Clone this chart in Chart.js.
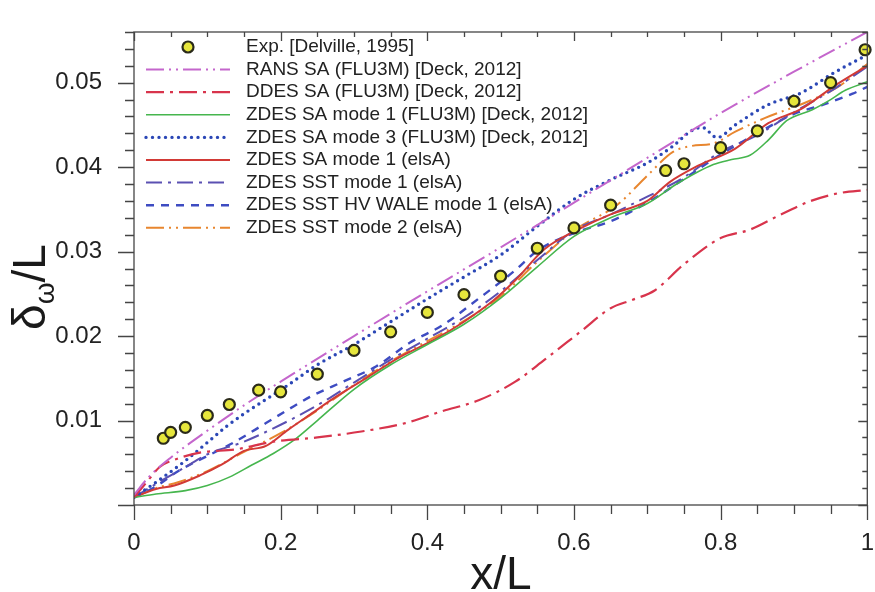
<!DOCTYPE html>
<html>
<head>
<meta charset="utf-8">
<script src="https://cdn.jsdelivr.net/npm/chart.js@4"></script>
<style>
  html, body { margin: 0; padding: 0; background: #fff; }
  #wrap { width: 875px; height: 592px; }
</style>
</head>
<body>
<div id="wrap"><canvas id="deltaChart" width="875" height="592"></canvas></div>
<script>
// --- data ---
const xTicks = [0, 0.2, 0.4, 0.6, 0.8, 1];
const yTicks = [0.01, 0.02, 0.03, 0.04, 0.05];

const expX = [0.04, 0.05, 0.07, 0.1, 0.13, 0.17, 0.2, 0.25, 0.3, 0.35, 0.4, 0.45, 0.5, 0.55, 0.6, 0.65, 0.725, 0.75, 0.8, 0.85, 0.9, 0.95, 0.997];
const expY = [0.0079, 0.0086, 0.0092, 0.0106, 0.0119, 0.0136, 0.0134, 0.0155, 0.0183, 0.0205, 0.0228, 0.0249, 0.0271, 0.0304, 0.0328, 0.0355, 0.0396, 0.0404, 0.0423, 0.0443, 0.0478, 0.0500, 0.0539];

const ransX = [0, 0.02, 0.05, 0.1, 0.15, 0.2, 0.3, 0.4, 0.5, 0.6, 0.7, 0.8, 0.9, 1.0];
const ransY = [0.0012, 0.0033, 0.0056, 0.0088, 0.0118, 0.0146, 0.0200, 0.0253, 0.0305, 0.0358, 0.0411, 0.0464, 0.0513, 0.0560];

const ddesX = [0, 0.02, 0.035, 0.06, 0.09, 0.14, 0.19, 0.25, 0.31, 0.37, 0.42, 0.47, 0.52, 0.56, 0.61, 0.65, 0.68, 0.71, 0.75, 0.8, 0.84, 0.88, 0.92, 0.96, 1.0];
const ddesY = [0.0009, 0.0030, 0.0045, 0.0055, 0.0062, 0.0066, 0.0075, 0.0080, 0.0087, 0.0097, 0.0111, 0.0124, 0.0146, 0.0172, 0.0206, 0.0233, 0.0243, 0.0254, 0.0285, 0.0316, 0.0326, 0.0343, 0.0359, 0.0369, 0.0373];

const zSaFluX = [0, 0.03, 0.07, 0.1, 0.13, 0.16, 0.19, 0.22, 0.25, 0.3, 0.35, 0.4, 0.45, 0.5, 0.55, 0.6, 0.65, 0.7, 0.74, 0.79, 0.815, 0.84, 0.865, 0.89, 0.925, 0.95, 0.97, 1.0];
const zSaFluY = [0.0009, 0.0013, 0.0017, 0.0023, 0.0033, 0.0047, 0.0061, 0.0078, 0.0100, 0.0137, 0.0166, 0.0190, 0.0214, 0.0245, 0.0282, 0.0318, 0.0340, 0.0357, 0.0380, 0.0403, 0.0409, 0.0414, 0.0432, 0.0455, 0.0468, 0.0480, 0.0491, 0.0501];

const zSa3X = [0, 0.03, 0.068, 0.1, 0.126, 0.15, 0.18, 0.21, 0.25, 0.3, 0.35, 0.4, 0.45, 0.5, 0.55, 0.6, 0.65, 0.7, 0.735, 0.76, 0.775, 0.795, 0.82, 0.865, 0.91, 0.955, 1.0];
const zSa3Y = [0.0009, 0.0027, 0.0051, 0.0074, 0.0093, 0.0108, 0.0125, 0.0142, 0.0166, 0.0190, 0.0217, 0.0244, 0.0270, 0.0296, 0.0330, 0.0362, 0.0385, 0.0405, 0.0425, 0.0443, 0.0447, 0.0435, 0.0450, 0.0474, 0.0488, 0.0512, 0.0533];

const zSaElsX = [0, 0.03, 0.055, 0.09, 0.12, 0.15, 0.18, 0.21, 0.245, 0.27, 0.32, 0.36, 0.41, 0.45, 0.49, 0.52, 0.56, 0.61, 0.65, 0.7, 0.73, 0.77, 0.82, 0.865, 0.91, 0.955, 1.0];
const zSaElsY = [0.0009, 0.0019, 0.0023, 0.0035, 0.0048, 0.0064, 0.0070, 0.0089, 0.0110, 0.0125, 0.0152, 0.0174, 0.0196, 0.0217, 0.0242, 0.0266, 0.0303, 0.0328, 0.0344, 0.0360, 0.0382, 0.0402, 0.0422, 0.0452, 0.0469, 0.0496, 0.0520];

const zSst1X = [0, 0.03, 0.07, 0.1, 0.15, 0.2, 0.25, 0.3, 0.35, 0.4, 0.45, 0.5, 0.55, 0.6, 0.65, 0.7, 0.75, 0.8, 0.85, 0.9, 0.95, 1.0];
const zSst1Y = [0.0009, 0.0025, 0.0045, 0.0060, 0.0075, 0.0095, 0.0118, 0.0145, 0.0172, 0.0197, 0.0222, 0.0253, 0.0290, 0.0325, 0.0344, 0.0365, 0.0388, 0.0418, 0.0438, 0.0465, 0.0490, 0.0519];

const zWaleX = [0, 0.03, 0.06, 0.1, 0.136, 0.18, 0.218, 0.24, 0.285, 0.33, 0.376, 0.421, 0.471, 0.52, 0.55, 0.6, 0.65, 0.7, 0.75, 0.8, 0.85, 0.9, 0.94, 0.98, 1.0];
const zWaleY = [0.0009, 0.0022, 0.0040, 0.0058, 0.0074, 0.0097, 0.0117, 0.0128, 0.0146, 0.0164, 0.0192, 0.0213, 0.0245, 0.0278, 0.0301, 0.0322, 0.0336, 0.0358, 0.0386, 0.0415, 0.0440, 0.0463, 0.0474, 0.0487, 0.0495];

const zSst2X = [0, 0.03, 0.06, 0.1, 0.15, 0.2, 0.25, 0.3, 0.35, 0.4, 0.45, 0.5, 0.55, 0.6, 0.66, 0.7, 0.735, 0.76, 0.79, 0.82, 0.86, 0.92, 0.96, 1.0];
const zSst2Y = [0.0009, 0.0020, 0.0027, 0.0040, 0.0063, 0.0085, 0.0112, 0.0142, 0.0170, 0.0194, 0.0218, 0.0247, 0.0288, 0.0325, 0.0356, 0.0390, 0.0418, 0.0425, 0.0428, 0.0442, 0.0458, 0.0478, 0.0495, 0.0522];

function pts(xs, ys) {
    return xs.map((x, i) => ({ x: x, y: ys[i] }));
}

const FONT = '"Liberation Sans", Arial, Helvetica, sans-serif';

function lineSet(label, xs, ys, color, dash, width, cap) {
    return {
        label: label,
        data: pts(xs, ys),
        showLine: true,
        borderColor: color,
        backgroundColor: color,
        borderWidth: width,
        borderDash: dash,
        borderCapStyle: cap || 'butt',
        pointRadius: 0,
        cubicInterpolationMode: 'monotone',
        order: 1
    };
}

const datasets = [
    {
        label: 'Exp. [Delville, 1995]',
        data: pts(expX, expY),
        showLine: false,
        pointRadius: 5.5,
        pointBackgroundColor: '#e6e63c',
        pointBorderColor: '#2a2a1a',
        pointBorderWidth: 2.2,
        clip: false,
        order: 0
    },
    lineSet('RANS SA (FLU3M) [Deck, 2012]', ransX, ransY, '#c466cc', [18, 5, 2, 5, 2, 5], 2),
    lineSet('DDES SA (FLU3M) [Deck, 2012]', ddesX, ddesY, '#d8344c', [18, 6, 3, 6], 2.2),
    lineSet('ZDES SA mode 1 (FLU3M) [Deck, 2012]', zSaFluX, zSaFluY, '#46b64e', [], 1.6),
    lineSet('ZDES SA mode 3 (FLU3M) [Deck, 2012]', zSa3X, zSa3Y, '#2b47b6', [0, 6.5], 3.4, 'round'),
    lineSet('ZDES SA mode 1 (elsA)', zSaElsX, zSaElsY, '#d23a36', [], 2),
    lineSet('ZDES SST mode 1 (elsA)', zSst1X, zSst1Y, '#5b50b2', [16, 6, 3, 6], 2),
    lineSet('ZDES SST HV WALE mode 1 (elsA)', zWaleX, zWaleY, '#3e4cc2', [8, 7], 2.4),
    lineSet('ZDES SST mode 2 (elsA)', zSst2X, zSst2Y, '#e8862f', [18, 5, 2, 5, 2, 5], 2)
];

// frame, minor ticks, axis titles and the inner legend
const decorations = {
    id: 'decorations',
    afterDraw(chart) {
        const ctx = chart.ctx;
        const a = chart.chartArea;
        const xs = chart.scales.x;
        const ys = chart.scales.y;
        ctx.save();

        ctx.strokeStyle = '#454545';
        ctx.lineWidth = 1.3;
        ctx.strokeRect(a.left, a.top, a.right - a.left, a.bottom - a.top);

        ctx.beginPath();
        for (let i = 0; i <= 20; i++) {
            const px = Math.round(xs.getPixelForValue(i * 0.05)) + 0.5;
            const major = i % 4 === 0;
            ctx.moveTo(px, a.bottom);
            ctx.lineTo(px, a.bottom + (major ? 15 : 9));
            ctx.moveTo(px, a.top);
            ctx.lineTo(px, a.top + (major ? 9 : 5));
        }
        for (let i = 0; i <= 28; i++) {
            const py = Math.round(ys.getPixelForValue(i * 0.002)) + 0.5;
            const major = i % 5 === 0;
            ctx.moveTo(a.left, py);
            ctx.lineTo(a.left - (major ? 16 : 9), py);
            ctx.moveTo(a.right, py);
            ctx.lineTo(a.right - (major ? 9 : 5), py);
        }
        ctx.stroke();

        // x title
        ctx.fillStyle = '#1a1a1a';
        ctx.font = '46px ' + FONT;
        ctx.textAlign = 'center';
        ctx.textBaseline = 'alphabetic';
        ctx.fillText('x/L', 501, 589);

        // y title: delta with omega subscript, rotated
        ctx.save();
        ctx.translate(45, 287);
        ctx.rotate(-Math.PI / 2);
        ctx.textAlign = 'left';
        const big = '46px ' + FONT;
        const small = '28px ' + FONT;
        ctx.font = big;
        const wd = ctx.measureText('δ').width;
        const wl = ctx.measureText('/L').width;
        ctx.font = small;
        const wo = ctx.measureText('ω').width;
        let tx = -(wd + wo + wl) / 2;
        ctx.font = big;
        ctx.fillText('δ', tx, 0);
        tx += wd;
        ctx.font = small;
        ctx.fillText('ω', tx, 9);
        tx += wo;
        ctx.font = big;
        ctx.fillText('/L', tx, 0);
        ctx.restore();

        // legend
        ctx.font = '19px ' + FONT;
        ctx.textAlign = 'left';
        ctx.textBaseline = 'middle';
        chart.data.datasets.forEach((ds, i) => {
            const ry = 47 + i * 22.6;
            if (!ds.showLine) {
                ctx.beginPath();
                ctx.arc(188, ry, ds.pointRadius, 0, Math.PI * 2);
                ctx.fillStyle = ds.pointBackgroundColor;
                ctx.fill();
                ctx.lineWidth = ds.pointBorderWidth;
                ctx.strokeStyle = ds.pointBorderColor;
                ctx.setLineDash([]);
                ctx.stroke();
            } else {
                ctx.beginPath();
                ctx.setLineDash(ds.borderDash);
                ctx.lineCap = ds.borderCapStyle;
                ctx.lineWidth = ds.borderWidth;
                ctx.strokeStyle = ds.borderColor;
                ctx.moveTo(146, ry);
                ctx.lineTo(230, ry);
                ctx.stroke();
                ctx.setLineDash([]);
                ctx.lineCap = 'butt';
            }
            ctx.fillStyle = '#222';
            ctx.fillText(ds.label, 246, ry);
        });
        ctx.restore();
    }
};

const ctx = document.getElementById('deltaChart').getContext('2d');
new Chart(ctx, {
    type: 'scatter',
    data: { datasets: datasets },
    options: {
        responsive: false,
        animation: false,
        layout: { padding: { top: 32, right: 2, left: 0, bottom: 0 } },
        plugins: {
            legend: { display: false },
            tooltip: { enabled: false }
        },
        scales: {
            x: {
                type: 'linear',
                min: 0,
                max: 1,
                afterBuildTicks: (s) => { s.ticks = xTicks.map(v => ({ value: v })); },
                afterFit: (s) => {
                    s.height = 87;
                    s.paddingLeft = 0;
                    s.paddingRight = 0;
                },
                grid: { display: false },
                border: { display: false },
                ticks: {
                    padding: 16,
                    color: '#222',
                    font: { family: FONT, size: 24 },
                    maxRotation: 0,
                    callback: (v) => String(Math.round(v * 10) / 10)
                }
            },
            y: {
                type: 'linear',
                min: 0,
                max: 0.056,
                afterBuildTicks: (s) => { s.ticks = yTicks.map(v => ({ value: v })); },
                afterFit: (s) => {
                    s.width = 134;
                    s.paddingTop = 0;
                    s.paddingBottom = 0;
                },
                grid: { display: false },
                border: { display: false },
                ticks: {
                    padding: 24,
                    color: '#222',
                    font: { family: FONT, size: 24 },
                    callback: (v) => v.toFixed(2)
                }
            }
        }
    },
    plugins: [decorations]
});
</script>
</body>
</html>
